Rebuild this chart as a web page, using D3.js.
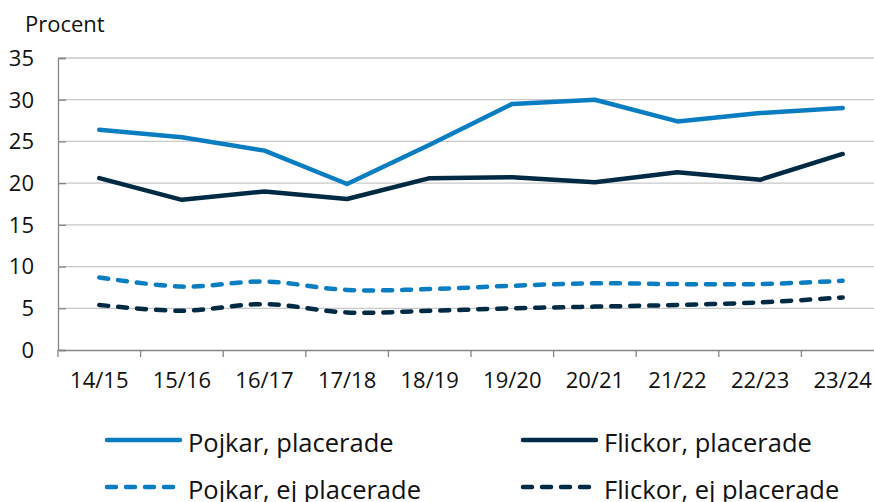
<!DOCTYPE html>
<html>
<head>
<meta charset="utf-8">
<script src="https://cdn.jsdelivr.net/npm/d3@7"></script>
<style>
  body { margin: 0; background: #fff; }
  svg { display: block; font-family: "Open Sans", "Noto Sans", sans-serif; }
</style>
</head>
<body>
<svg id="chart"></svg>
<script>
// läsår och andelar (procent)
const years = ["14/15", "15/16", "16/17", "17/18", "18/19", "19/20", "20/21", "21/22", "22/23", "23/24"];
const pojkarPlacerade = [26.4, 25.5, 23.9, 19.9, 24.6, 29.5, 30.0, 27.4, 28.4, 29.0];
const flickorPlacerade = [20.6, 18.0, 19.0, 18.1, 20.6, 20.7, 20.1, 21.3, 20.4, 23.5];
const pojkarEj = [8.7, 7.6, 8.2, 7.2, 7.3, 7.7, 8.0, 7.9, 7.9, 8.3];
const flickorEj = [5.4, 4.7, 5.5, 4.5, 4.7, 5.0, 5.2, 5.4, 5.7, 6.3];
const yTicks = [0, 5, 10, 15, 20, 25, 30, 35];

const blue = "#0a7dc2", navy = "#002a43";

const series = [
    { name: "Pojkar, placerade", values: pojkarPlacerade, color: blue, dashed: false },
    { name: "Flickor, placerade", values: flickorPlacerade, color: navy, dashed: false },
    { name: "Pojkar, ej placerade", values: pojkarEj, color: blue, dashed: true },
    { name: "Flickor, ej placerade", values: flickorEj, color: navy, dashed: true }
];

const width = 874, height = 502;
const margin = { top: 58, left: 58, bottom: 152 };
const plotBottom = height - margin.bottom;

const svg = d3.select("#chart")
    .attr("width", width)
    .attr("height", height);

const x = d3.scaleBand()
    .domain(years)
    .range([margin.left, 884]);

const y = d3.scaleLinear()
    .domain([0, 35])
    .range([plotBottom, margin.top]);

// stödlinjer
svg.append("g")
    .selectAll("line")
    .data(yTicks.filter(d => d > 0))
    .enter()
    .append("line")
    .attr("x1", margin.left)
    .attr("x2", 884)
    .attr("y1", d => y(d))
    .attr("y2", d => y(d))
    .attr("stroke", "#c8c8c8")
    .attr("stroke-width", 1.3);

// y-axel, ticks inåt
const yAxis = svg.append("g")
    .attr("transform", `translate(${margin.left},0)`)
    .call(d3.axisRight(y).tickValues(yTicks).tickSize(8).tickFormat(""));
yAxis.select(".domain").attr("stroke", "#868686").attr("stroke-width", 1.3);
yAxis.selectAll(".tick line").attr("stroke", "#868686").attr("stroke-width", 1.3);

svg.append("g")
    .selectAll("text")
    .data(yTicks)
    .enter()
    .append("text")
    .attr("x", 34)
    .attr("y", d => y(d))
    .attr("dy", "0.36em")
    .attr("text-anchor", "end")
    .attr("font-size", 22)
    .attr("fill", "#111")
    .text(d => d);

// x-axel
const xAxis = svg.append("g")
    .attr("transform", `translate(0,${plotBottom})`)
    .call(d3.axisBottom(x).tickSizeOuter(0).tickSize(0).tickFormat(""));
xAxis.select(".domain").attr("stroke", "#868686").attr("stroke-width", 1.3);

svg.append("g")
    .selectAll("line")
    .data(years)
    .enter()
    .append("line")
    .attr("x1", d => x(d))
    .attr("x2", d => x(d))
    .attr("y1", plotBottom)
    .attr("y2", plotBottom + 7)
    .attr("stroke", "#868686")
    .attr("stroke-width", 1.3);

svg.append("g")
    .selectAll("text")
    .data(years)
    .enter()
    .append("text")
    .attr("x", d => x(d) + x.bandwidth() / 2)
    .attr("y", 388)
    .attr("text-anchor", "middle")
    .attr("font-size", 22)
    .attr("fill", "#111")
    .text(d => d);

svg.append("text")
    .attr("x", 25)
    .attr("y", 32)
    .attr("font-size", 22)
    .attr("fill", "#111")
    .text("Procent");

// linjer
const straight = d3.line()
    .x((d, i) => x(years[i]) + x.bandwidth() / 2)
    .y(d => y(d));
const smooth = d3.line()
    .x((d, i) => x(years[i]) + x.bandwidth() / 2)
    .y(d => y(d))
    .curve(d3.curveCatmullRom.alpha(0.5));

svg.append("g")
    .selectAll("path")
    .data(series)
    .enter()
    .append("path")
    .attr("d", d => d.dashed ? smooth(d.values) : straight(d.values))
    .attr("fill", "none")
    .attr("stroke", d => d.color)
    .attr("stroke-width", 4.5)
    .attr("stroke-linecap", "round")
    .attr("stroke-linejoin", "round")
    .attr("stroke-dasharray", d => d.dashed ? "9,10" : null);

// förklaring
const legendPos = [[107, 440], [523, 440], [107, 487], [523, 487]];
const legend = svg.append("g")
    .selectAll("g")
    .data(series)
    .enter()
    .append("g")
    .attr("transform", (d, i) => `translate(${legendPos[i][0]},${legendPos[i][1]})`);

legend.append("line")
    .attr("x1", 0)
    .attr("x2", 73)
    .attr("stroke", d => d.color)
    .attr("stroke-width", 4.5)
    .attr("stroke-linecap", "round")
    .attr("stroke-dasharray", d => d.dashed ? "9,10" : null);

legend.append("text")
    .attr("x", 81)
    .attr("y", 12)
    .attr("font-size", 25.5)
    .attr("fill", "#111")
    .text(d => d.name);
</script>
</body>
</html>
